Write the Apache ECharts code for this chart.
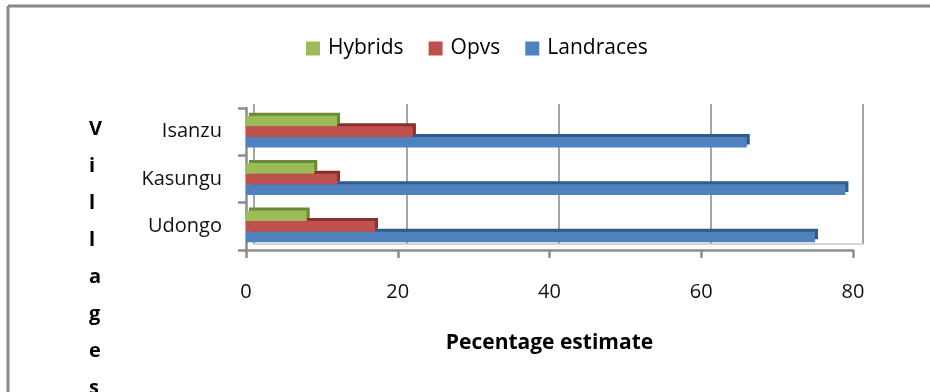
<!DOCTYPE html>
<html>
<head>
<meta charset="utf-8">
<script src="https://cdn.jsdelivr.net/npm/echarts@6/dist/echarts.min.js"></script>
<style>
  html, body { margin: 0; padding: 0; background: #fff; }
  #chart { width: 930px; height: 392px; }
</style>
</head>
<body>
<div id="chart"></div>
<script>
// Villages, listed bottom to top
const villages = ['Udongo', 'Kasungu', 'Isanzu'];
// Percentage estimate of each maize variety type per village
const hybrids = [8, 9, 12];
const opvs = [17, 12, 22];
const landraces = [75, 79, 66];
const xTicks = [0, 20, 40, 60, 80];

const FONT = '"Open Sans", "Noto Sans", sans-serif';

// Each bar gets a darker offset shadow to suggest a top and an end face.
function barSeries(name, data, color, edge, z) {
  return {
    name: name,
    type: 'bar',
    data: data,
    xAxisIndex: 0,
    yAxisIndex: 0,
    z: z,
    barWidth: 10.6,
    barGap: '0%',
    itemStyle: {
      color: color,
      shadowColor: edge,
      shadowBlur: 0,
      shadowOffsetX: 3,
      shadowOffsetY: -3
    }
  };
}

const chart = echarts.init(document.getElementById('chart'), null, { renderer: 'canvas' });
chart.setOption({
  animation: false,
  backgroundColor: '#fff',
  title: {
    text: 'V\ni\nl\nl\na\ng\ne\ns',
    left: 84,
    top: 106,
    textStyle: { fontFamily: FONT, fontSize: 20, fontWeight: 'bold', color: '#000', lineHeight: 37 }
  },
  legend: {
    data: ['Hybrids', 'Opvs', 'Landraces'],
    top: 33,
    left: 301,
    itemWidth: 14,
    itemHeight: 14,
    itemGap: 25,
    icon: 'rect',
    textStyle: { fontFamily: FONT, fontSize: 21, color: '#000', padding: [0, 0, 0, 3] }
  },
  grid: [
    // front plane carrying the bars and labelled axes
    { left: 246, right: 77, top: 108, bottom: 142 },
    // back wall, shifted up and right for depth
    { left: 254, right: 67, top: 104, bottom: 148 }
  ],
  xAxis: [
    {
      gridIndex: 0,
      type: 'value', min: 0, max: 80, interval: 20,
      axisLine: { show: true, lineStyle: { color: '#8c8c8c', width: 2.5 } },
      axisTick: { show: true, length: 8, lineStyle: { color: '#8c8c8c', width: 2.5 } },
      axisLabel: {
        margin: 32, fontFamily: FONT, fontSize: 20, color: '#111',
        formatter: v => xTicks.includes(v) ? String(v) : ''
      },
      splitLine: { show: false },
      name: 'Pecentage estimate',
      nameLocation: 'middle',
      nameGap: 83,
      nameTextStyle: { fontFamily: FONT, fontSize: 21, fontWeight: 'bold', color: '#000' }
    },
    {
      gridIndex: 1,
      type: 'value', min: 0, max: 80, interval: 20,
      axisLine: { show: true, lineStyle: { color: '#c8c8c8', width: 1.5 } },
      axisTick: { show: false },
      axisLabel: { show: false },
      splitLine: { show: true, lineStyle: { color: '#a6a6a6', width: 2 } }
    }
  ],
  yAxis: [
    {
      gridIndex: 0,
      type: 'category',
      data: villages,
      axisLine: { show: true, lineStyle: { color: '#8c8c8c', width: 2.5 } },
      axisTick: { show: true, length: 8, lineStyle: { color: '#8c8c8c', width: 2.5 } },
      axisLabel: { margin: 24, fontFamily: FONT, fontSize: 20, color: '#111' }
    },
    {
      gridIndex: 1,
      type: 'category',
      data: villages,
      axisLine: { show: false },
      axisTick: { show: false },
      axisLabel: { show: false }
    }
  ],
  series: [
    barSeries('Hybrids', hybrids, '#9BBB59', '#6b8a38', 4),
    barSeries('Opvs', opvs, '#C0504D', '#8a2f2c', 3),
    barSeries('Landraces', landraces, '#4F81BD', '#2f5a8c', 2)
  ],
  graphic: [
    { type: 'line', shape: { x1: 8, y1: 6, x2: 930, y2: 6 }, style: { stroke: '#888', lineWidth: 3 } },
    { type: 'line', shape: { x1: 8, y1: 6, x2: 8, y2: 392 }, style: { stroke: '#888', lineWidth: 3 } }
  ]
});
</script>
</body>
</html>
